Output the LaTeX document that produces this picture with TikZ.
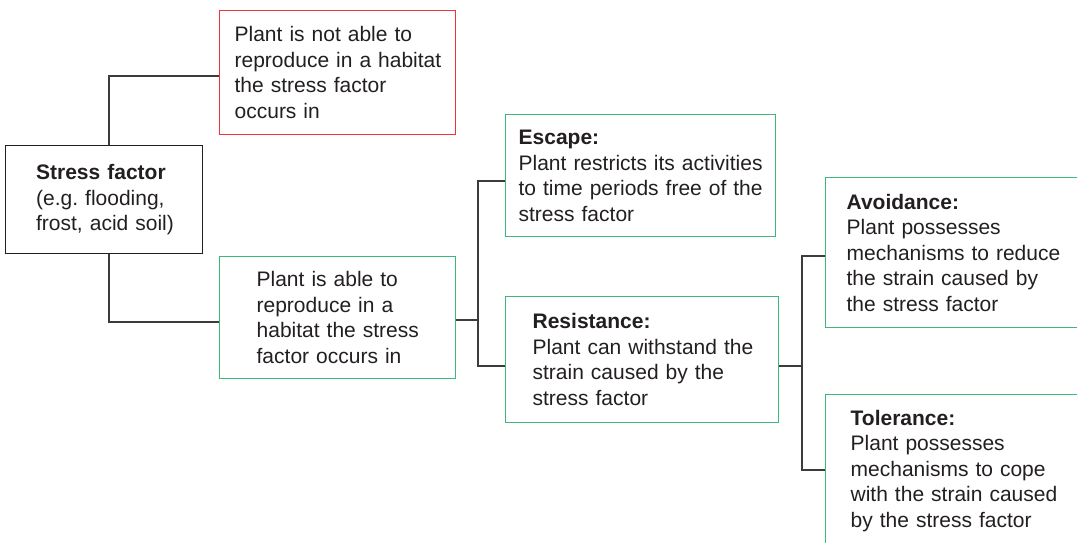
\documentclass[tikz,border=0pt]{standalone}
\usepackage{fontspec}
\setmainfont{Liberation Sans}
\definecolor{ink}{RGB}{35,31,32}
\definecolor{wire}{RGB}{60,60,60}
\definecolor{boxgreen}{RGB}{60,184,122}
\definecolor{boxred}{RGB}{236,52,60}
\begin{document}
\begin{tikzpicture}[x=1pt,y=-1pt,
  box/.style={draw, rectangle, anchor=north west, align=left, inner xsep=0pt, inner ysep=0pt,
    line width=1.3pt, text=ink, font=\fontsize{21}{25.5}\selectfont},
  inset/.style={execute at begin node={\leftskip=#1pt\relax}},
  wire/.style={draw=wire, line width=1.4pt}]
\clip (0,0) rectangle (1077,543);

\node[box, draw=boxred, text width=236pt, minimum height=124pt, inset=15] (notrepro) at (219,10)
  {Plant is not able to\\reproduce in a habitat\\the stress factor\\occurs in};
\node[box, draw=ink, text width=197pt, minimum height=108pt, inset=30.5] (stress) at (5,145)
  {\textbf{Stress factor}\\(e.g.\ flooding,\\frost, acid soil)};
\node[box, draw=boxgreen, text width=236pt, minimum height=122pt, inset=37] (able) at (219,256)
  {Plant is able to\\reproduce in a\\habitat the stress\\factor occurs in};
\node[box, draw=boxgreen, text width=270pt, minimum height=122pt, inset=13] (escape) at (505,114)
  {\textbf{Escape:}\\Plant restricts its activities\\to time periods free of the\\stress factor};
\node[box, draw=boxgreen, text width=273pt, minimum height=126pt, inset=27] (resist) at (505,296)
  {\textbf{Resistance:}\\Plant can withstand the\\strain caused by the\\stress factor};
\node[box, draw=boxgreen, text width=270pt, minimum height=150pt, inset=21] (avoid) at (825,177)
  {\textbf{Avoidance:}\\Plant possesses\\mechanisms to reduce\\the strain caused by\\the stress factor};
\node[box, draw=boxgreen, text width=270pt, minimum height=152pt, inset=25] (toler) at (825,394)
  {\textbf{Tolerance:}\\Plant possesses\\mechanisms to cope\\with the strain caused\\by the stress factor};

\coordinate (j1) at (109,76);
\coordinate (j2) at (109,322);
\coordinate (k0) at (478,320);
\coordinate (k1) at (478,181);
\coordinate (k2) at (478,366);
\coordinate (m0) at (802,366);
\coordinate (m1) at (802,256);
\coordinate (m2) at (802,470);

\path[wire] (stress.north -| j1) -- (j1) -- (notrepro.west |- j1);
\path[wire] (stress.south -| j2) -- (j2) -- (able.west |- j2);
\path[wire] (able.east |- k0) -- (k0);
\path[wire] (escape.west |- k1) -- (k1) -- (k2) -- (resist.west |- k2);
\path[wire] (resist.east |- m0) -- (m0);
\path[wire] (avoid.west |- m1) -- (m1) -- (m2) -- (toler.west |- m2);
\end{tikzpicture}
\end{document}
